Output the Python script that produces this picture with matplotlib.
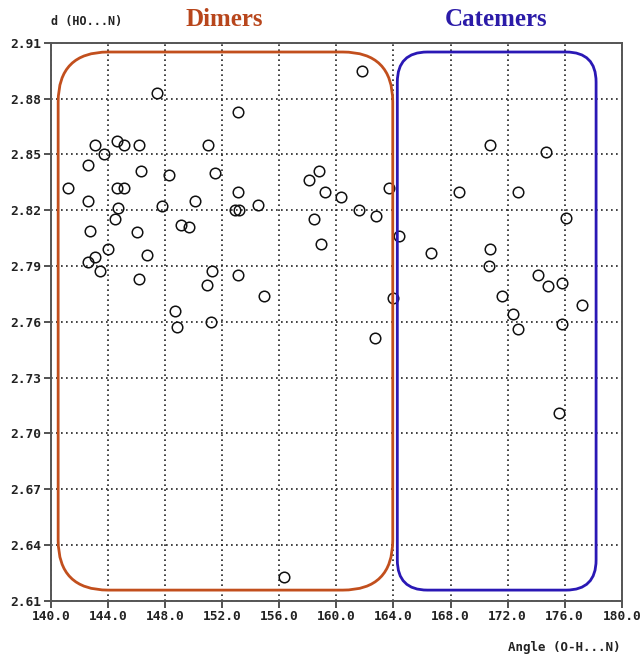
import matplotlib.pyplot as plt
from matplotlib.patches import FancyBboxPatch

# O-H...N angle (deg) and HO...N distance (A)
angle = [
    141.2, 142.6, 142.6, 143.1, 143.7, 142.7, 143.1, 142.6, 143.4, 144.0,
    144.6, 145.1, 144.6, 145.1, 144.7, 144.5, 146.2, 146.3, 146.0, 146.7,
    146.2, 147.4, 148.3, 147.8, 149.1, 149.7, 150.1, 148.7, 148.8, 151.0,
    151.5, 153.1, 153.1, 152.9, 153.2, 154.5, 151.3, 150.9, 153.1, 154.9,
    151.2, 158.1, 158.8, 159.2, 158.4, 158.9, 161.8, 160.3, 161.6, 162.8,
    163.7, 164.4, 164.0, 162.7, 156.3,
    170.8, 174.7, 168.6, 172.7, 176.1, 166.6, 170.8, 170.7, 174.1, 174.8,
    175.8, 171.6, 177.2, 172.4, 172.7, 175.8, 175.6,
]
distance = [
    2.832, 2.844, 2.825, 2.855, 2.850, 2.809, 2.795, 2.792, 2.787, 2.799,
    2.857, 2.855, 2.832, 2.832, 2.821, 2.815, 2.855, 2.841, 2.808, 2.796,
    2.783, 2.883, 2.839, 2.822, 2.812, 2.811, 2.825, 2.766, 2.757, 2.855,
    2.840, 2.873, 2.830, 2.820, 2.820, 2.823, 2.787, 2.780, 2.785, 2.774,
    2.760, 2.836, 2.841, 2.830, 2.815, 2.802, 2.895, 2.827, 2.820, 2.817,
    2.832, 2.806, 2.773, 2.751, 2.623,
    2.855, 2.851, 2.830, 2.830, 2.816, 2.797, 2.799, 2.790, 2.785, 2.779,
    2.781, 2.774, 2.769, 2.764, 2.756, 2.759, 2.711,
]

# group boxes: (x0, x1, y0, y1, corner radius in px)
dimers_box = (140.5, 163.95, 2.6157, 2.905, 50)
catemers_box = (164.27, 178.2, 2.6157, 2.905, 30)

mono = "DejaVu Sans Mono"

fig = plt.figure(figsize=(6.41, 6.55), dpi=100)
ax = fig.add_axes([0.0796, 0.0829, 0.8904, 0.8519])

ax.set_xlim(140, 180)
ax.set_ylim(2.61, 2.91)
ax.set_xticks([140 + 4 * i for i in range(11)])
ax.set_yticks([2.61 + 0.03 * i for i in range(11)])
ax.set_xticklabels([f"{140 + 4 * i:.1f}" for i in range(11)])
ax.set_yticklabels([f"{2.61 + 0.03 * i:.2f}" for i in range(11)])
for lab in ax.get_xticklabels() + ax.get_yticklabels():
    lab.set_fontfamily(mono)
    lab.set_fontweight("bold")
    lab.set_fontsize(9.3)
    lab.set_color("#222222")
ax.tick_params(direction="out", length=5, width=1.3, color="#444444", pad=2)

ax.grid(True, color="#222222", linestyle=(0, (1, 2.0)), linewidth=1.2)
ax.set_axisbelow(True)
for sp in ax.spines.values():
    sp.set_color("#555555")
    sp.set_linewidth(1.4)

ax.plot(angle, distance, "o", markersize=7.6, markerfacecolor="none",
        markeredgecolor="#111111", markeredgewidth=1.1, zorder=3)

# px per data unit, used to keep the corner radius round on screen
px_x = 570.7 / 40
px_y = 558.0 / 0.30


def add_box(box, color):
    x0, x1, y0, y1, r = box
    rx = r / px_x
    aspect = (r / px_y) / rx
    patch = FancyBboxPatch((x0, y0), x1 - x0, y1 - y0,
                           boxstyle=f"round,pad=0,rounding_size={rx}",
                           mutation_aspect=aspect, fill=False,
                           edgecolor=color, linewidth=2.0, zorder=4,
                           clip_on=False)
    ax.add_patch(patch)


add_box(dimers_box, "#c24f1d")
add_box(catemers_box, "#2a18b5")

fig.text(224 / 641, 1 - 20 / 655, "Dimers", color="#b8461c",
         fontfamily="Liberation Serif", fontweight="bold", fontsize=18,
         ha="center", va="center")
fig.text(496 / 641, 1 - 20 / 655, "Catemers", color="#2b1ba8",
         fontfamily="Liberation Serif", fontweight="bold", fontsize=18,
         ha="center", va="center")
fig.text(51 / 641, 1 - 21 / 655, "d (HO...N)", fontfamily=mono,
         fontweight="bold", fontsize=8.5, color="#222222",
         ha="left", va="center")
fig.text(621 / 641, 1 - 647 / 655, "Angle (O-H...N)", fontfamily=mono,
         fontweight="bold", fontsize=9, color="#222222",
         ha="right", va="center")

plt.savefig("out.png", dpi=100)
plt.close()
